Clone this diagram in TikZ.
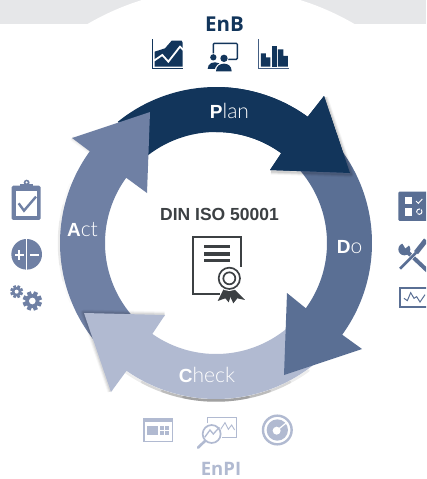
\documentclass[tikz,border=0pt]{standalone}
\usepackage{fontspec}
\setmainfont{Liberation Sans}
\newfontfamily\opensans{Open Sans}
\newfontfamily\lightf{Lato Light}
\definecolor{cplan}{HTML}{12355B}
\definecolor{cdo}{HTML}{5A6F94}
\definecolor{cact}{HTML}{6F80A4}
\definecolor{ccheck}{HTML}{B1BAD1}
\definecolor{cband}{HTML}{E6E7E9}
\definecolor{ccert}{HTML}{3C4043}
\newcommand{\ringarc}[3]{plot[domain=#1:#2,samples=60]({216+#3*cos(\x)},{243-#3*sin(\x)})}
\newcommand{\ringto}[3]{-- plot[domain=#1:#2,samples=60]({216+#3*cos(\x)},{243-#3*sin(\x)})}
\newcommand{\planshape}{\ringarc{129}{54}{156} -- (324,96) -- (350,173) -- (270,170) \ringto{54}{128}{111} -- cycle}
\newcommand{\doshape}{\ringarc{36}{-36}{156} -- (362,349) -- (284,375) -- (287,293) \ringto{-36}{42}{111} -- cycle}
\newcommand{\checkshape}{\ringarc{-49}{-125}{156} -- (111,392) -- (84,313) -- (165,315) \ringto{-125}{-49}{111} -- cycle}
\newcommand{\actshape}{\ringarc{218}{144}{156} -- (72,138) -- (150,112) -- (147,193) \ringto{144}{222}{111} -- cycle}
\newcommand{\softshadow}[4]{%
  \foreach \w/\o in {6/.03,4/.05,2/.07}{\draw[black,line join=round,line width=\w pt,opacity=#4*\o,shift={(#1,#2)}] #3;}}
\newcommand{\gearicon}[5]{% x y r hole color
  \fill[#5] (#1,#2) circle (#3);
  \foreach \a in {0,45,...,315}{\fill[#5,shift={(#1,#2)},rotate=\a+22] (#3-2,-#3*.3) rectangle (#3*1.38,#3*.3);}
  \fill[white] (#1,#2) circle (#4);}
\tikzset{
  ringlabel/.style={text=white,anchor=base,inner sep=0pt,font=\fontsize{21}{21}\selectfont},
}
\newcommand{\ringtext}[2]{{\fontsize{19}{21}\selectfont\textbf{#1}}{\lightf #2}}
\begin{document}
\begin{tikzpicture}[x=1pt,y=-1pt]
\useasboundingbox (0,0) rectangle (426,479);
\fill[white] (0,0) rectangle (426,479);
% top band
\begin{scope}
\clip (0,0) rectangle (426,24);
\fill[cband] (0,0) rectangle (426,24);
\fill[white] (221,253) circle (265);
\end{scope}
% soft shadows of the ring
\foreach \s/\o in {36/.07,28/.09,20/.12,12/.14}{
  \draw[black,opacity=\o,line width=2.5pt,line cap=round] \ringarc{-90-\s}{-90+\s}{157.5};}
\foreach \s/\o in {22/.02,14/.03,8/.03}{
  \draw[black,opacity=\o,line width=2.5pt,line cap=round] \ringarc{180-\s}{180+\s}{157};}
% arrows
\fill[cplan] \planshape;
\softshadow{0}{0}{(72,138) -- (90,151)}{.6}
\fill[cact] \actshape;
\softshadow{-.5}{-.5}{(111,392) -- (84,313) -- (165,315)}{1}
\fill[ccheck] \checkshape;
\fill[cdo] \doshape;
\begin{scope}
\clip (216,60) rectangle (400,200);
\softshadow{1}{1.5}{(270,170) -- (350,173) -- (324,96)}{1.3}
\fill[cplan] \planshape;
\end{scope}
% ring labels
\node[ringlabel] (plan) at (229.5,118) {\ringtext{P}{lan}};
\node[ringlabel] (do) at (349.5,253) {\ringtext{D}{o}};
\node[ringlabel] (act) at (82.5,236) {\ringtext{A}{ct}};
\node[ringlabel] (check) at (207,382) {\ringtext{C}{heck}};
% centre
\node[anchor=base,inner sep=0pt,text=ccert,font=\fontsize{17.5}{18}\selectfont\bfseries] (din) at (219.5,220) {DIN ISO 50001};
\begin{scope}[shift={(150,195)},x=.3333pt,y=-.3333pt]
\draw[ccert,line width=1.9pt] (210,298) -- (128,298) -- (128,127) -- (273,127) -- (273,215);
\foreach \yy in {155,177,197}{\fill[ccert] (162,\yy-5) rectangle (240,\yy+5);}
\fill[ccert] (222,280) -- (203,318) -- (226,310) -- (236,322) -- (248,288) -- cycle;
\fill[ccert] (252,282) -- (285,315) -- (262,310) -- (250,325) -- (234,290) -- cycle;
\fill[white] (238,250) circle (38);
\draw[ccert,line width=1.7pt] (238,250) circle (32);
\draw[ccert,line width=1.7pt] (238,250) circle (18);
\end{scope}
% EnB
\node[anchor=base,inner sep=0pt,text=cplan,font=\opensans\bfseries\fontsize{20.5}{21}\selectfont] (enb) at (224.5,31) {EnB};
\begin{scope}[shift={(130,0)},x=.3333pt,y=-.3333pt]
\fill[cplan] (74,155) -- (105,145) -- (125,122) -- (155,122) -- (158,128) -- (158,200) -- (74,200) -- cycle;
\draw[white,line width=1.8pt] (72,182) -- (97,165) -- (115,185) -- (150,140) -- (160,150);
\draw[cplan,line width=1.2pt] (67,118) -- (67,205) -- (158,205);
\draw[cplan,line width=1.4pt,rounded corners=1pt] (250,160) -- (250,130) -- (322,130) -- (322,178) -- (290,178);
\fill[cplan] (250,172) circle (9.5);
\fill[cplan] (233,207) .. controls (233,190) and (250,182) .. (268,190) -- (258,207) -- cycle;
\fill[white] (282,175) circle (14);
\fill[cplan] (282,175) circle (11);
\fill[white] (254,216) .. controls (254,195) and (268,188) .. (282,188) .. controls (296,188) and (309,195) .. (309,216) -- cycle;
\fill[cplan] (258,214) .. controls (258,198) and (270,191) .. (282,191) .. controls (294,191) and (305,198) .. (305,214) -- cycle;
\draw[cdo!70!cplan,line width=1.2pt] (386,118) -- (386,205) -- (476,205);
\fill[cplan] (393,200) |- (408,160) |- (421,172) |- cycle;
\fill[cplan] (426,138) rectangle (442,200);
\fill[cplan] (444,200) |- (460,148) |- (474,168) |- cycle;
\end{scope}
% Act icons
\begin{scope}[shift={(0,170)},x=.3333pt,y=-.3333pt]
\fill[cact,rounded corners=1.5pt] (35,47) rectangle (122,150);
\fill[white] (48,62) rectangle (110,138);
\fill[cact] (60,43) rectangle (98,58);
\fill[cact] (80,38) circle (9);
\fill[white] (80,37) circle (3.5);
\draw[cact,line width=2.4pt] (56,100) -- (72,122) -- (108,80);
\fill[cact] (80,253) circle (46);
\draw[white,line width=1pt] (80,205) -- (80,301);
\fill[white] (44,252) rectangle (72,258);
\fill[white] (55,241) rectangle (61,269);
\fill[white] (90,252) rectangle (116,258);
\gearicon{50}{365}{14}{6}{cact}
\gearicon{97}{393}{21}{10}{cact}
\end{scope}
% Do icons
\begin{scope}
\clip (380,180) rectangle (426,330);
\begin{scope}[shift={(380,180)},x=.3333pt,y=-.3333pt]
\fill[cdo,rounded corners=1.2pt] (55,35) rectangle (150,123);
\fill[white] (75,52) rectangle (97,72);
\fill[white] (75,85) rectangle (97,107);
\draw[white,line width=.9pt] (108,63) -- (115,70) -- (127,57);
\draw[white,line width=1pt,dash pattern=on 6pt off 1pt] (118,95) circle (8);
\end{scope}
\begin{scope}[shift={(390,230)},x=.3333pt,y=-.3333pt]
\draw[cdo,line width=4pt] (48,62) -- (112,122);
\fill[cdo] (43,58) circle (18);
\fill[white] (30,28) -- (46,55) -- (57,46) -- (50,28) -- cycle;
\draw[white,line width=3.8pt] (84,60) -- (52,96);
\draw[cdo,line width=5pt] (108,30) -- (78,68);
\draw[cdo,line width=2.6pt] (78,68) -- (30,116);
\end{scope}
\begin{scope}[shift={(390,280)},x=.3333pt,y=-.3333pt]
\draw[cdo,line width=2pt] (31,25) rectangle (125,82);
\draw[cdo,line width=1pt] (42,55) -- (52,62) -- (62,38) -- (72,55) -- (80,50) -- (90,66) -- (105,44);
\end{scope}
\end{scope}
% Check icons
\begin{scope}[shift={(130,400)},x=.3333pt,y=-.3333pt]
\draw[ccheck,line width=1.6pt] (42,55) rectangle (128,125);
\fill[ccheck] (42,55) rectangle (128,67);
\fill[ccheck] (52,78) rectangle (84,106);
\fill[ccheck] (89,78) rectangle (101,89);
\fill[ccheck] (105,78) rectangle (118,89);
\fill[ccheck] (89,94) rectangle (101,106);
\fill[ccheck] (105,94) rectangle (118,106);
\draw[ccheck,line width=1.6pt] (233,70) -- (233,53) -- (320,53) -- (320,113) -- (275,113);
\draw[ccheck,line width=.9pt] (272,88) -- (285,68) -- (295,88) -- (305,75) -- (314,90);
\draw[ccheck,line width=1.7pt] (245,102) circle (27);
\draw[ccheck,line width=1.3pt] (224,112) -- (240,90) -- (250,102) -- (268,82);
\draw[ccheck,line width=2.6pt,line cap=round] (225,123) -- (204,143);
\draw[ccheck,line width=2.4pt] (442,90) circle (43);
\fill[ccheck] (442,90) circle (32);
\fill[white] (440,92) circle (12);
\draw[white,line width=1.2pt] (440,92) -- (472,66);
\end{scope}
\node[anchor=base,inner sep=0pt,text=ccheck,font=\opensans\fontsize{18.5}{19}\selectfont\bfseries] (enpi) at (221,475.5) {EnPI};
\end{tikzpicture}
\end{document}
